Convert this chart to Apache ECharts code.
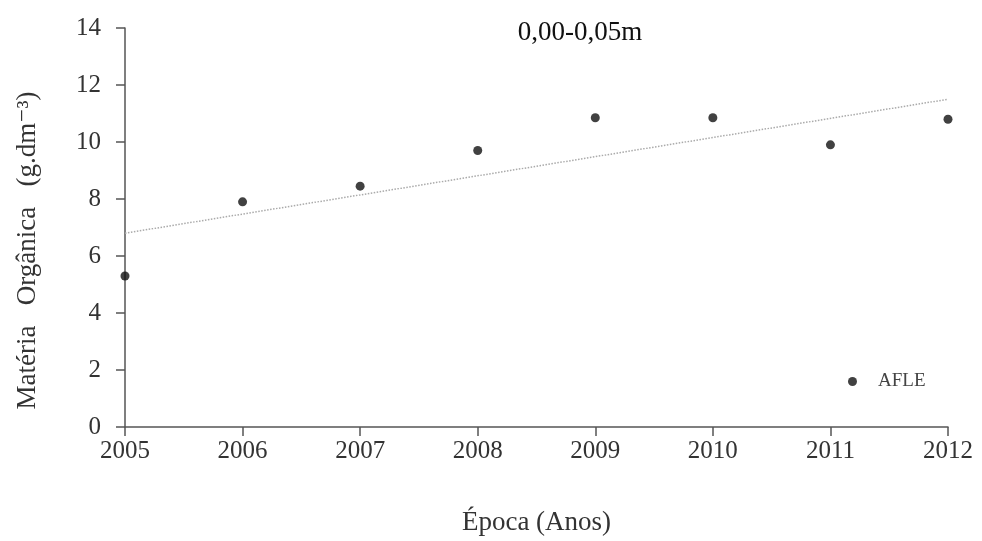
<!DOCTYPE html>
<html><head><meta charset="utf-8">
<script src="https://cdn.jsdelivr.net/npm/echarts@6/dist/echarts.min.js"></script>
<style>html,body{margin:0;padding:0;background:#fff}#c{width:982px;height:541px}</style>
</head><body><div id="c"></div>
<script>
const years = [2005, 2006, 2007, 2008, 2009, 2010, 2011, 2012];
const afle = [5.3, 7.9, 8.45, 9.7, 10.85, 10.85, 9.9, 10.8];
const trendYears = [2005, 2012];
const trendValues = [6.8, 11.5];
const yTicks = [0, 2, 4, 6, 8, 10, 12, 14];

const serif = '"Liberation Serif", "DejaVu Serif", serif';
const chart = echarts.init(document.getElementById('c'), null, {renderer: 'canvas'});
chart.setOption({
  animation: false,
  backgroundColor: '#fff',
  title: {
    text: '0,00-0,05m', left: 575, top: 14, textAlign: 'center',
    textStyle: {fontFamily: serif, fontSize: 27, fontWeight: 'normal', color: '#111'}
  },
  legend: {
    left: 843, top: 367, data: ['AFLE'],
    itemWidth: 9, itemHeight: 9,
    textStyle: {fontFamily: serif, fontSize: 19, color: '#444', padding: [0, 0, 0, 16]}
  },
  grid: {left: 125, right: 34, top: 28, bottom: 114},
  xAxis: {
    type: 'value', min: years[0], max: years[years.length - 1], interval: 1,
    name: 'Época (Anos)', nameLocation: 'middle', nameGap: 82,
    nameTextStyle: {fontFamily: serif, fontSize: 27, color: '#333'},
    axisLine: {lineStyle: {color: '#555', width: 1.5}},
    axisTick: {show: true, length: 9, lineStyle: {color: '#555', width: 1.5}},
    axisLabel: {fontFamily: serif, fontSize: 25, color: '#333', margin: 12, formatter: v => String(v)},
    splitLine: {show: false}
  },
  yAxis: {
    type: 'value', min: yTicks[0], max: yTicks[yTicks.length - 1], interval: 2,
    name: 'Matéria   Orgânica   (g.dm⁻³)', nameLocation: 'middle', nameGap: 84, nameRotate: 90,
    nameTextStyle: {fontFamily: serif, fontSize: 27, color: '#333', padding: [0, 46, 0, 0]},
    axisLine: {show: true, lineStyle: {color: '#555', width: 1.5}},
    axisTick: {show: true, length: 9, lineStyle: {color: '#555', width: 1.5}},
    axisLabel: {fontFamily: serif, fontSize: 25, color: '#333', margin: 24},
    splitLine: {show: false}
  },
  series: [
    {
      name: 'trend', type: 'line', data: trendYears.map((x, i) => [x, trendValues[i]]),
      symbol: 'none', lineStyle: {color: '#aaa', width: 1.5, type: 'dotted'}, z: 1, silent: true
    },
    {
      name: 'AFLE', type: 'scatter', data: years.map((x, i) => [x, afle[i]]),
      symbol: 'circle', symbolSize: 9, itemStyle: {color: '#111'}, z: 3
    }
  ]
});
</script></body></html>
